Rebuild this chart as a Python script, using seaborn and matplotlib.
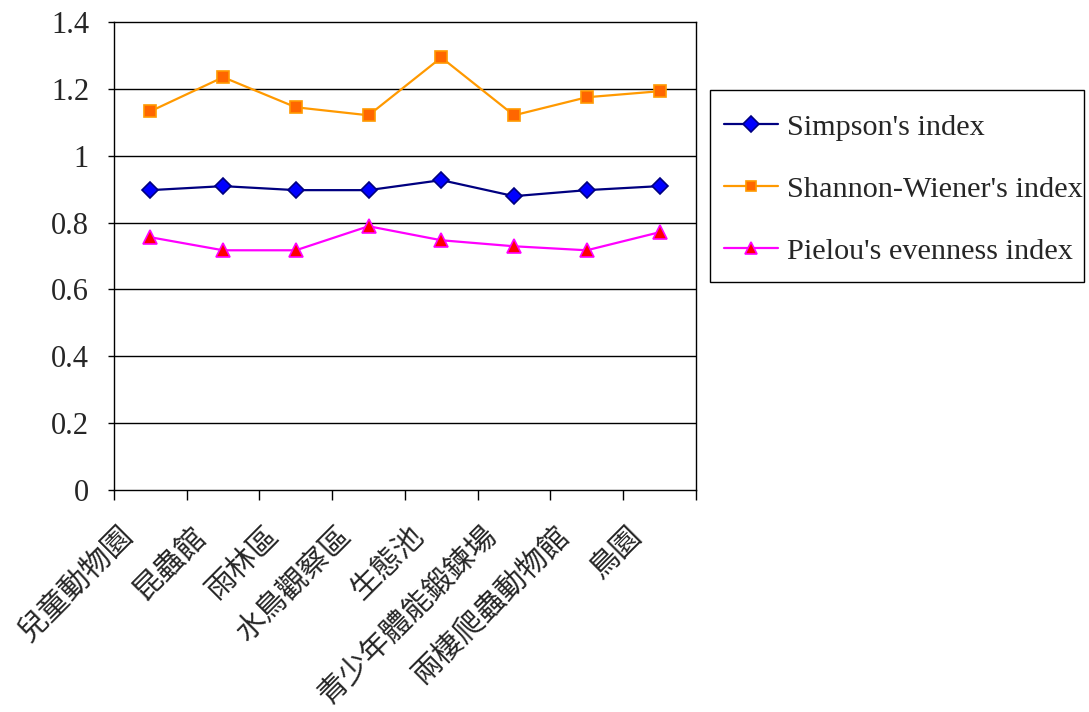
import numpy as np
import pandas as pd
import matplotlib
matplotlib.use("Agg")
import matplotlib.pyplot as plt
import matplotlib.transforms as mtransforms
from matplotlib.patches import Rectangle
import seaborn as sns

sites = ["兒童動物園", "昆蟲館", "雨林區", "水鳥觀察區", "生態池",
         "青少年體能鍛鍊場", "兩棲爬蟲動物館", "鳥園"]
simpson = [0.897, 0.909, 0.897, 0.897, 0.927, 0.879, 0.897, 0.909]
shannon = [1.133, 1.235, 1.145, 1.121, 1.294, 1.121, 1.175, 1.193]
pielou = [0.756, 0.717, 0.717, 0.789, 0.747, 0.729, 0.717, 0.771]
y_ticks = [0, 0.2, 0.4, 0.6, 0.8, 1.0, 1.2, 1.4]
y_labels = ["0", "0.2", "0.4", "0.6", "0.8", "1", "1.2", "1.4"]

sns.set_style("white")
plt.rcParams["font.family"] = ["Liberation Serif", "Noto Sans CJK TC"]

fig = plt.figure(figsize=(10.89, 7.12), dpi=100)
ax = fig.add_axes([0.1047, 0.312, 0.5343, 0.657])

pos = np.arange(len(sites))
series = [
    ("Simpson's index", simpson, "D", "#000080", "#0000FF", "#000080", 8.5),
    ("Shannon-Wiener's index", shannon, "s", "#FF9900", "#FF6600", "#FF9900", 8.5),
    ("Pielou's evenness index", pielou, "^", "#FF00FF", "#FF0000", "#FF00FF", 9.5),
]
for name, vals, mk, lc, fc, ec, ms in series:
    df = pd.DataFrame({"x": pos, "y": vals})
    sns.lineplot(data=df, x="x", y="y", ax=ax, color=lc, lw=1.6,
                 marker=mk, markersize=ms, markerfacecolor=fc,
                 markeredgecolor=ec, markeredgewidth=1.2, label=name)

ax.set_xlim(-0.5, len(sites) - 0.5)
ax.set_ylim(0, 1.4)
ax.set_yticks(y_ticks)
ax.set_yticklabels(y_labels, fontsize=22)
for yv in y_ticks[1:-1]:
    ax.axhline(yv, color="black", lw=1, zorder=0)

# category labels, rotated, placed under each category centre
ax.set_xticks(np.arange(-0.5, len(sites)))
ax.set_xticklabels([])
label_tr = ax.get_xaxis_transform() + mtransforms.ScaledTranslation(
    -0.11, -0.52, fig.dpi_scale_trans)
for i, s in enumerate(sites):
    ax.text(pos[i], 0, s, transform=label_tr, rotation=45, ha="right",
            va="bottom", rotation_mode="anchor", fontsize=21.5,
            family=["Noto Sans CJK TC"])
ax.tick_params(axis="x", bottom=True, length=7, width=1, color="black",
               direction="out")
ax.tick_params(axis="y", left=True, length=4, width=1, color="black",
               direction="out", pad=14)
ax.set_xlabel("")
ax.set_ylabel("")
for sp in ax.spines.values():
    sp.set_color("black")
    sp.set_linewidth(1)

leg = ax.legend(loc="upper left", bbox_to_anchor=(0.652, 0.8596),
                bbox_transform=fig.transFigure, fontsize=21.8, frameon=False,
                handlelength=1.8, labelspacing=1.15, borderpad=0.45,
                handletextpad=0.3, borderaxespad=0, markerscale=0.9)
# legend frame box
fig.patches.append(Rectangle((0.652, 0.604), 0.3434, 0.2697,
                             transform=fig.transFigure, fill=False,
                             edgecolor="black", lw=1))

fig.savefig("out.png", dpi=100)
